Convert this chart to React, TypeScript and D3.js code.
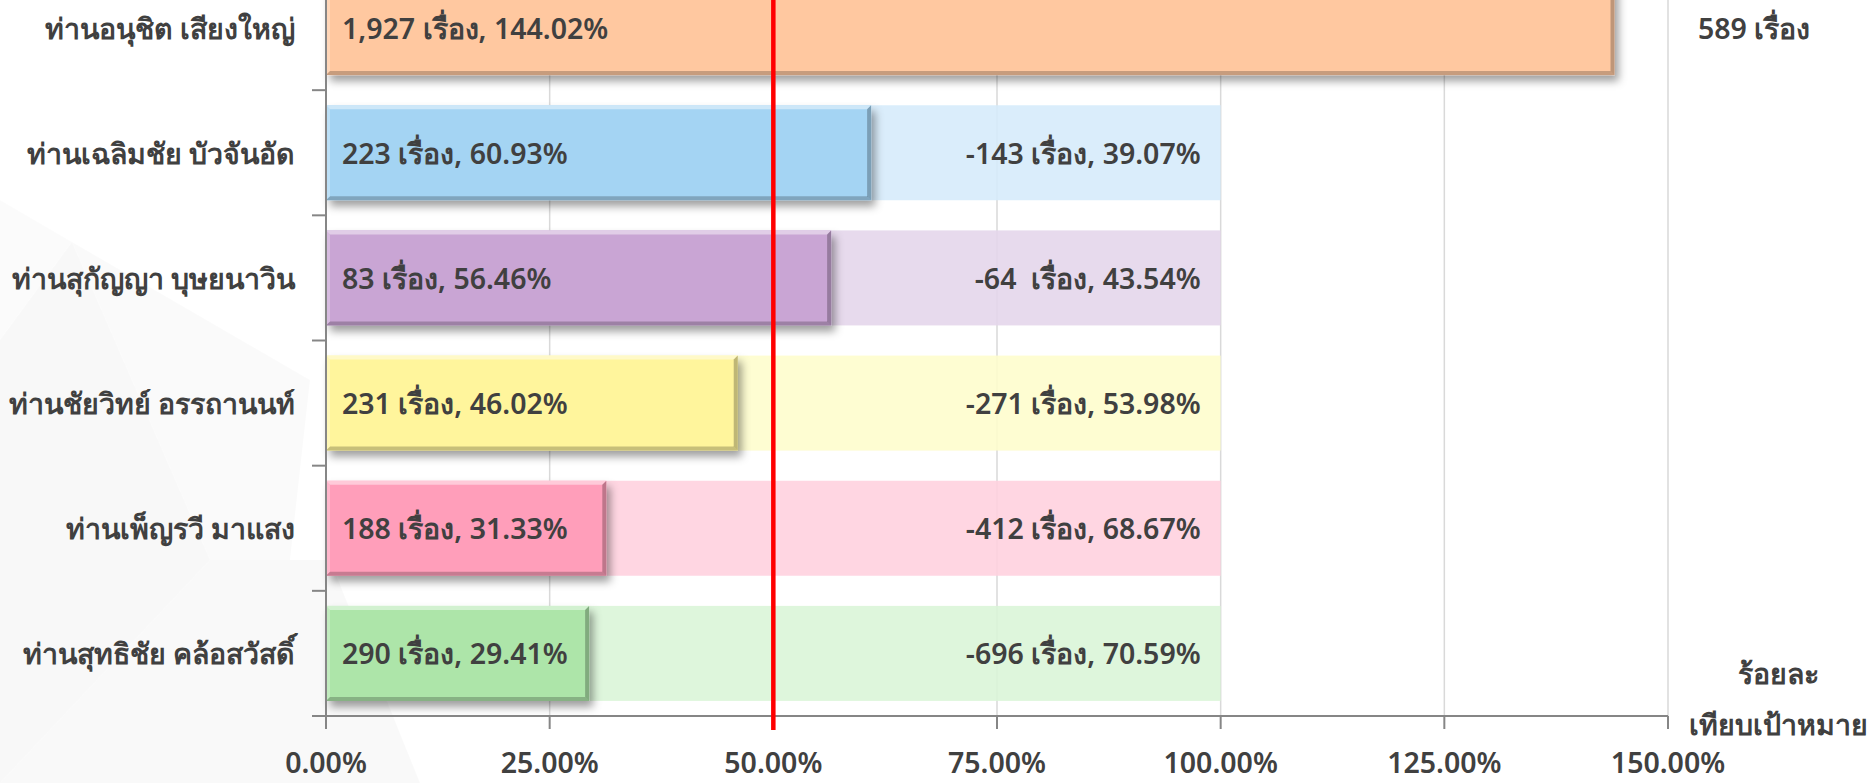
import React from "react";
import * as d3 from "d3";

const categories = [
  "ท่านอนุชิต เสียงใหญ่",
  "ท่านเฉลิมชัย บัวจันอัด",
  "ท่านสุกัญญา บุษยนาวิน",
  "ท่านชัยวิทย์ อรรถานนท์",
  "ท่านเพ็ญรวี มาแสง",
  "ท่านสุทธิชัย คล้อสวัสดิ์",
];
const achievedCount = [1927, 223, 83, 231, 188, 290];
const achievedPct = [144.02, 60.93, 56.46, 46.02, 31.33, 29.41];
const remainingCount = [589, -143, -64, -271, -412, -696];
const remainingPct = [null, 39.07, 43.54, 53.98, 68.67, 70.59];
const targetPct = 50;
const fullPct = 100;
const xTicks = [0, 25, 50, 75, 100, 125, 150];
const axisTitle = ["ร้อยละ", "เทียบเป้าหมาย"];

const barColors = ["#FFC8A0", "#A4D4F3", "#C9A5D4", "#FFF59C", "#FF9EBA", "#ADE5A9"];
const bandColors = ["#FFE3CF", "#D5EBFA", "#E4D5EB", "#FEFDCC", "#FFD0DE", "#DAF5D7"];

const W = 1868;
const H = 783;
const FONT = "'Noto Sans', 'Open Sans', sans-serif";
const TEXT = "#404040";
const FS = 28.5;
const FW = 600;

export default function App() {
  const x0 = 326;
  const x1 = 1668;
  const yTop = -35;
  const yBase = 716;
  const x = d3.scaleLinear().domain([0, 150]).range([x0, x1]);
  const y = d3
    .scaleBand<string>()
    .domain(categories)
    .range([yTop, yBase])
    .paddingInner(0.241)
    .paddingOuter(0.1205);
  const step = y.step();
  const bw = y.bandwidth();
  const fmt = d3.formatLocale({ decimal: ".", thousands: ",", grouping: [3], currency: ["", ""], minus: "-" }).format(",");
  const b = 4;

  const bevel = (xa: number, ya: number, w: number, h: number) => {
    const xb = xa + w;
    const yb = ya + h;
    return (
      <g>
        <polygon points={`${xa},${ya} ${xb},${ya} ${xb - b},${ya + b} ${xa + b},${ya + b}`} fill="#fff" opacity={0.45} />
        <polygon points={`${xa},${ya} ${xa + b},${ya + b} ${xa + b},${yb - b} ${xa},${yb}`} fill="#fff" opacity={0.25} />
        <polygon points={`${xa},${yb} ${xa + b},${yb - b} ${xb - b},${yb - b} ${xb},${yb}`} fill="#000" opacity={0.22} />
        <polygon points={`${xb},${ya} ${xb},${yb} ${xb - b},${yb - b} ${xb - b},${ya + b}`} fill="#000" opacity={0.25} />
      </g>
    );
  };

  const txt = { fontSize: FS, fill: TEXT, fontWeight: FW } as const;

  return (
    <svg
      width={W}
      height={H}
      style={{ position: "absolute", left: 0, top: 0, background: "#fff" }}
      fontFamily={FONT}
    >
      <defs>
        <filter id="shadow" x="-10%" y="-30%" width="130%" height="170%">
          <feDropShadow dx="4" dy="6" stdDeviation="4" floodColor="#000" floodOpacity="0.38" />
        </filter>
      </defs>
      {/* faint watermark shapes */}
      <g>
        <polygon points="0,340 72,242 210,560 0,783" fill="#000" opacity={0.028} />
        <polygon points="72,242 310,380 290,560 210,560" fill="#000" opacity={0.02} />
        <polygon points="0,783 210,560 330,560 420,783" fill="#000" opacity={0.025} />
        <polygon points="0,200 72,242 0,340" fill="#000" opacity={0.015} />
      </g>
      {/* gridlines */}
      {xTicks.slice(1).map((t) => (
        <line key={t} x1={x(t)} x2={x(t)} y1={0} y2={yBase} stroke="#D9D9D9" strokeWidth={1.5} />
      ))}
      {/* background bands to 100% */}
      {categories.map((c, i) => (
        <rect
          key={"bg" + i}
          x={x(0)}
          y={y(c)!}
          width={x(fullPct) - x(0)}
          height={bw}
          fill={bandColors[i]}
          opacity={0.88}
        />
      ))}
      {/* bars */}
      {categories.map((c, i) => {
        const yy = y(c)!;
        const w = x(achievedPct[i]) - x(0);
        return (
          <g key={"bar" + i}>
            <rect x={x(0)} y={yy} width={w} height={bw} fill={barColors[i]} filter="url(#shadow)" />
            {bevel(x(0), yy, w, bw)}
          </g>
        );
      })}
      {/* axes */}
      <line x1={x0} x2={x0} y1={0} y2={yBase} stroke="#868686" strokeWidth={2} />
      <line x1={x0} x2={x1} y1={yBase} y2={yBase} stroke="#868686" strokeWidth={2} />
      {d3.range(categories.length + 1).map((i) => (
        <line key={"yt" + i} x1={x0 - 14} x2={x0} y1={yTop + i * step} y2={yTop + i * step} stroke="#868686" strokeWidth={2} />
      ))}
      {xTicks.map((t) => (
        <line key={"xt" + t} x1={x(t)} x2={x(t)} y1={yBase} y2={yBase + 13} stroke="#868686" strokeWidth={2} />
      ))}
      {/* target line */}
      <line x1={x(targetPct)} x2={x(targetPct)} y1={0} y2={730} stroke="#FF0000" strokeWidth={4.5} />
      {/* category labels */}
      {categories.map((c, i) => (
        <text key={"cl" + i} x={295} y={y(c)! + bw / 2} textAnchor="end" dominantBaseline="central" {...txt}>
          {c}
        </text>
      ))}
      {/* bar labels */}
      {categories.map((c, i) => (
        <text key={"bl" + i} x={x(0) + 16} y={y(c)! + bw / 2} dominantBaseline="central" {...txt}>
          {`${fmt(achievedCount[i])} เรื่อง, ${achievedPct[i].toFixed(2)}%`}
        </text>
      ))}
      {/* remaining labels */}
      {categories.map((c, i) => {
        const p = remainingPct[i];
        const cy = y(c)! + bw / 2;
        if (p === null) {
          return (
            <text key={"rl" + i} x={1698} y={cy} dominantBaseline="central" {...txt}>
              {`${fmt(remainingCount[i])} เรื่อง`}
            </text>
          );
        }
        const sp = Math.abs(remainingCount[i]) < 100 ? "\u00a0 " : " ";
        return (
          <text key={"rl" + i} x={x(fullPct) - 20} y={cy} textAnchor="end" dominantBaseline="central" {...txt}>
            {`${fmt(remainingCount[i])}${sp}เรื่อง, ${p.toFixed(2)}%`}
          </text>
        );
      })}
      {/* x tick labels */}
      {xTicks.map((t) => (
        <text key={"xl" + t} x={x(t)} y={773} textAnchor="middle" {...txt}>
          {`${t.toFixed(2)}%`}
        </text>
      ))}
      {/* axis title */}
      <text x={1778} y={673} textAnchor="middle" dominantBaseline="central" {...txt}>
        {axisTitle[0]}
      </text>
      <text x={1778} y={724} textAnchor="middle" dominantBaseline="central" {...txt}>
        {axisTitle[1]}
      </text>
    </svg>
  );
}
